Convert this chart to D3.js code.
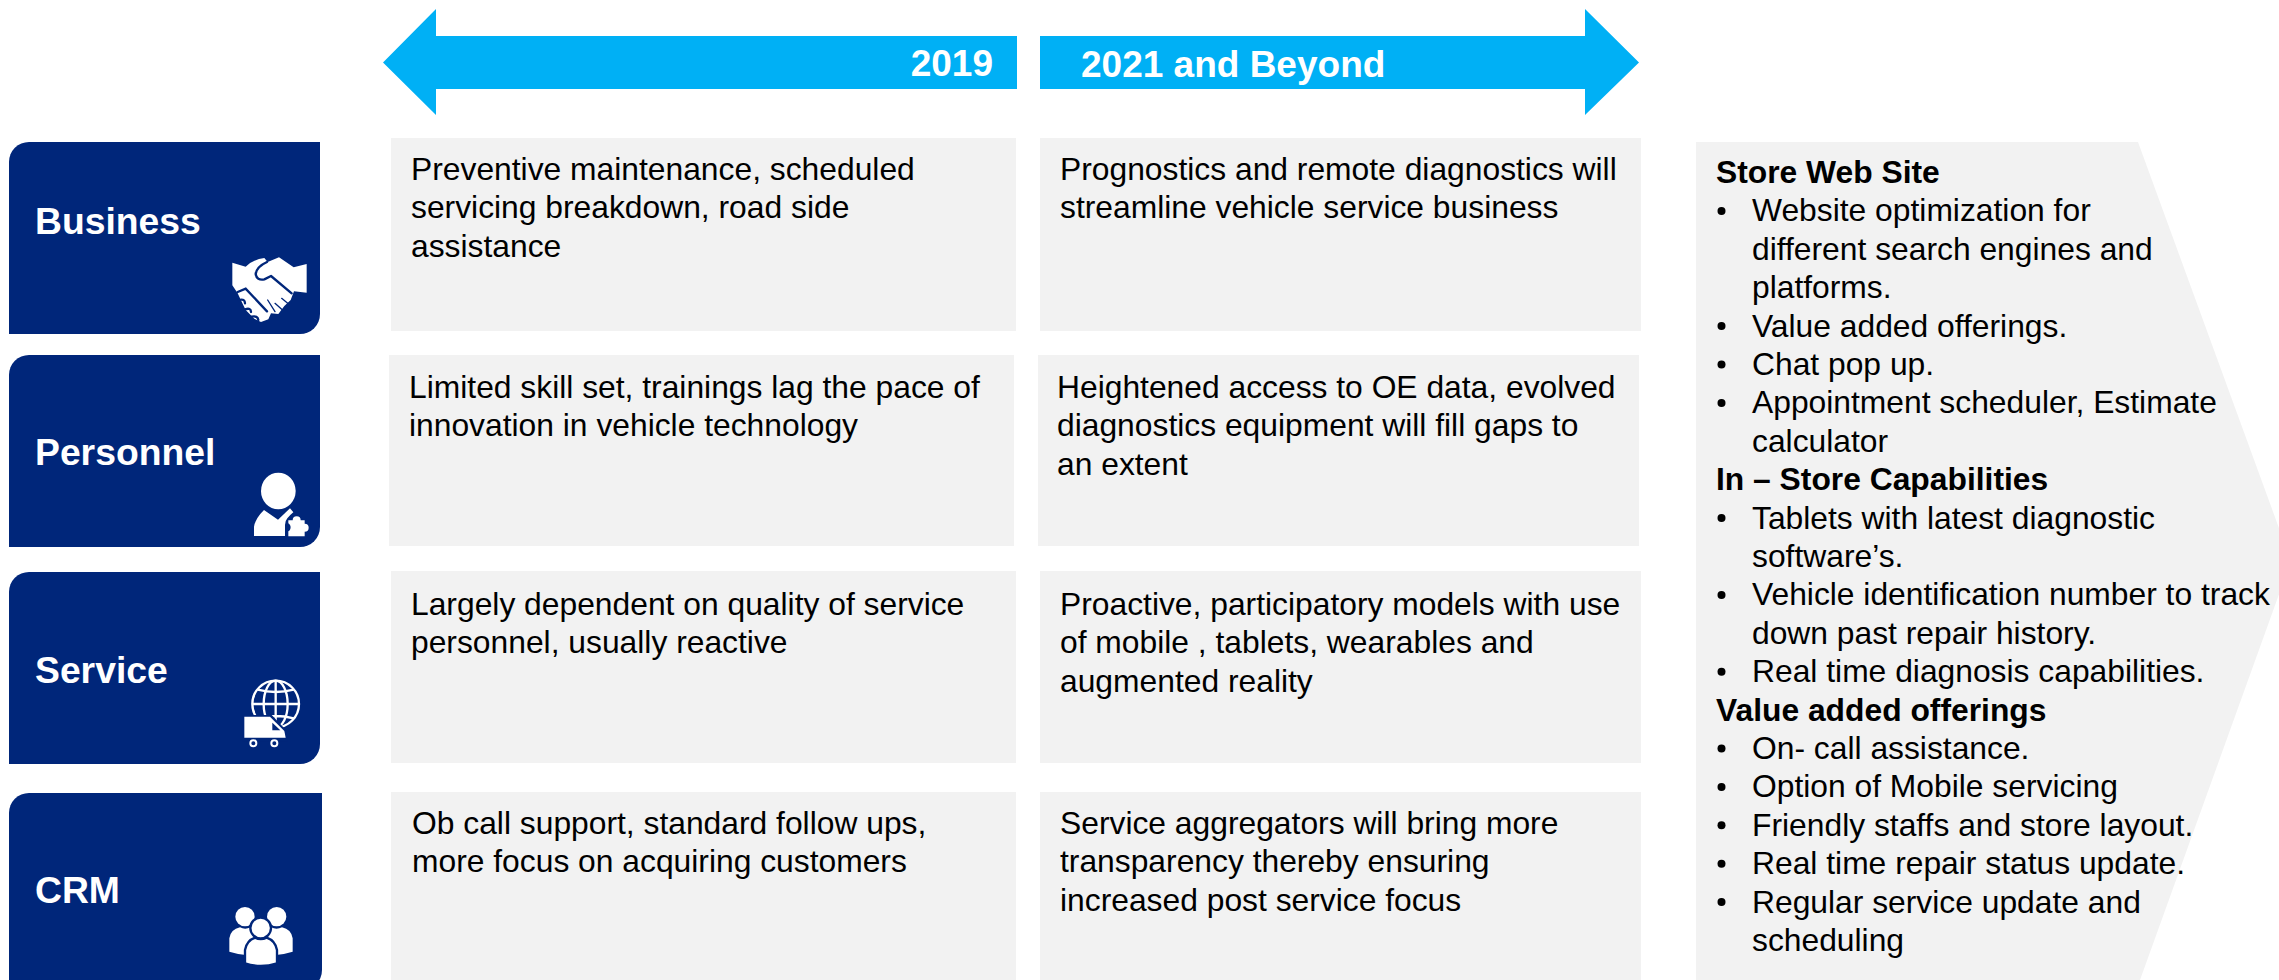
<!DOCTYPE html>
<html><head><meta charset="utf-8">
<script src="https://cdn.jsdelivr.net/npm/d3@7/dist/d3.min.js"></script>
<style>html,body{margin:0;padding:0;background:#fff;overflow:hidden}svg{display:block;font-family:"Liberation Sans",Arial,sans-serif}</style>
</head><body><svg id="c" width="2279" height="980"></svg>
<script>
const categories=["Business","Personnel","Service","CRM"];
const periods=["2019","2021 and Beyond"];
const text2019=[
 ["Preventive maintenance, scheduled","servicing breakdown, road side","assistance"],
 ["Limited skill set, trainings lag the pace of","innovation in vehicle technology"],
 ["Largely dependent on quality of service","personnel, usually reactive"],
 ["Ob call support, standard follow ups,","more focus on acquiring customers"]];
const text2021=[
 ["Prognostics and remote diagnostics will","streamline vehicle service business"],
 ["Heightened access to OE data, evolved","diagnostics equipment will fill gaps to","an extent"],
 ["Proactive, participatory models with use","of mobile , tablets, wearables and","augmented reality"],
 ["Service aggregators will bring more","transparency thereby ensuring","increased post service focus"]];
const sideLines=[
 ["h","Store Web Site"],["b","Website optimization for"],["c","different search engines and"],["c","platforms."],
 ["b","Value added offerings."],["b","Chat pop up."],["b","Appointment scheduler, Estimate"],["c","calculator"],
 ["h","In – Store Capabilities"],["b","Tablets with latest diagnostic"],["c","software’s."],
 ["b","Vehicle identification number to track"],["c","down past repair history."],["b","Real time diagnosis capabilities."],
 ["h","Value added offerings"],["b","On- call assistance."],["b","Option of Mobile servicing"],["b","Friendly staffs and store layout."],
 ["b","Real time repair status update."],["b","Regular service update and"],["c","scheduling"]];

const svg=d3.select("#c");
const NAVY="#00267a",CYAN="#00b0f5",GREY="#f2f2f2",INK="#000",FS=31.8;
const rowTop=d3.scaleOrdinal(categories,[142,355,572,793]);
const rowBottom=d3.scaleOrdinal(categories,[334,547,764,990]);
const cellTop=d3.scaleOrdinal(categories,[138,355,571,792]);
const cellBottom=d3.scaleOrdinal(categories,[331,546,763,990]);
const cellDX=d3.scaleOrdinal(categories,[0,-2,0,0]);
const textY=d3.scaleOrdinal(categories,[180,398,615,834]);
const colX=d3.scaleOrdinal(periods,[391,1040]);
const colW=d3.scaleOrdinal(periods,[625,601]);
const line=d3.line();

// arrow
const g=svg.append("g").attr("fill",CYAN);
g.append("path").attr("d",line([[383,62.5],[436,9],[436,36],[1017,36],[1017,89],[436,89],[436,115]])+"Z");
g.append("path").attr("d",line([[1040,36],[1585,36],[1585,9],[1639,62.5],[1585,115],[1585,89],[1040,89]])+"Z");
svg.append("text").attr("x",993).attr("y",76).attr("text-anchor","end").attr("fill","#fff").attr("font-weight","bold").attr("font-size",37).text(periods[0]);
svg.append("text").attr("x",1081).attr("y",77).attr("fill","#fff").attr("font-weight","bold").attr("font-size",37).text(periods[1]);

// left boxes
function box(x,y,w,h,r){return `M${x+r},${y}H${x+w}V${y+h-r}A${r},${r} 0 0 1 ${x+w-r},${y+h}H${x}V${y+r}A${r},${r} 0 0 1 ${x+r},${y}Z`;}
const rows=svg.selectAll("g.row").data(categories).join("g").attr("class","row");
rows.append("path").attr("fill",NAVY).attr("d",(d,i)=>box(9,rowTop(d),i==3?313:311,rowBottom(d)-rowTop(d),20));
const labelY=[234,465,683,903];
rows.append("text").attr("x",35).attr("y",(d,i)=>labelY[i]).attr("fill","#fff").attr("font-weight","bold").attr("font-size",37.3).text(d=>d);

// icons, drawn in a 3x local grid
function icon(x,y){return svg.append("g").attr("transform",`translate(${x},${y}) scale(${1/3})`);}
const W="#fff";
// handshake
{const i=icon(225,250);
 i.append("path").attr("fill",W).attr("d","M22,38L62,50Q85,28 118,24L128,36L162,22L206,52L245,42V128L207,124L197,150L178,168L160,192L138,190L130,208L108,216L88,206L62,180L50,155L38,130L22,106Z");
 i.append("path").attr("fill","none").attr("stroke",NAVY).attr("stroke-width",7).attr("stroke-linecap","round").attr("stroke-linejoin","round").attr("d","M126,36Q95,50 92,72Q95,92 118,88L138,78L200,130");
 i.append("path").attr("fill","none").attr("stroke",NAVY).attr("stroke-width",7).attr("stroke-linecap","round").attr("d","M38,126L62,116L126,184M42,150Q60,145 60,160M60,178Q78,172 78,186M80,200Q98,196 100,210");
 i.append("path").attr("fill","none").attr("stroke",NAVY).attr("stroke-width",4).attr("stroke-linecap","round").attr("d","M128,150L150,185M150,160L170,178M170,145L188,160");
}
// person with puzzle piece
{const i=icon(240,465);
 i.append("ellipse").attr("fill",W).attr("cx",115).attr("cy",78).attr("rx",52).attr("ry",55);
 i.append("path").attr("fill",W).attr("d","M42,213V185Q46,160 72,135L114,164L150,130L160,142Q150,150 142,160Q135,168 135,180V213Z");
 i.append("path").attr("fill",W).attr("d","M145,166H158A12,12 0 1 1 182,166H194V176A12,12 0 1 1 194,200V214H145V199A14,14 0 0 0 145,175Z");
}
// globe with van
{const i=icon(235,675);
 const gl=i.append("g").attr("fill","none").attr("stroke",W).attr("stroke-width",7);
 gl.append("circle").attr("cx",122).attr("cy",87).attr("r",70);
 gl.append("ellipse").attr("cx",122).attr("cy",87).attr("rx",36).attr("ry",70);
 gl.append("path").attr("d","M122,17V157M52,87H192M68,44Q122,58 176,44M68,130Q122,116 176,130");
 i.append("path").attr("fill",NAVY).attr("stroke",NAVY).attr("stroke-width",10).attr("d","M28,125H108L146,165L152,195H28Z");
 i.append("path").attr("fill",W).attr("d","M28,125H105L148,168L152,188H28Z");
 i.append("path").attr("fill",NAVY).attr("d","M112,143L136,166H112Z");
 i.selectAll("circle.w").data([55,118]).join("circle").attr("class","w").attr("cx",d=>d).attr("cy",205).attr("r",9).attr("fill",NAVY).attr("stroke",W).attr("stroke-width",6);
}
// team
{const i=icon(220,900);
 i.selectAll("circle.h").data([75,170]).join("circle").attr("class","h").attr("cx",d=>d).attr("cy",50).attr("r",29).attr("fill",W);
 i.append("path").attr("fill",W).attr("d","M28,155V115Q32,88 60,82Q75,90 92,82Q122,90 122,120V165L78,165Q50,162 28,155Z");
 i.append("path").attr("fill",W).attr("d","M218,155V115Q214,88 186,82Q170,90 153,82Q122,90 122,120V165L168,165Q196,162 218,155Z");
 i.append("circle").attr("cx",122).attr("cy",84).attr("r",31).attr("fill",W).attr("stroke",NAVY).attr("stroke-width",7);
 i.append("path").attr("fill",W).attr("stroke",NAVY).attr("stroke-width",7).attr("d","M75,190V150Q80,122 105,113Q122,122 140,113Q166,122 171,150V190Q122,206 75,190Z");
}

// cells
function cells(col,texts,tx){
 const gg=svg.append("g");
 gg.selectAll("rect").data(categories).join("rect").attr("fill",GREY)
  .attr("x",d=>colX(col)+cellDX(d)).attr("y",d=>cellTop(d)).attr("width",colW(col)).attr("height",d=>cellBottom(d)-cellTop(d));
 gg.selectAll("text").data(categories).join("text").attr("fill",INK).attr("font-size",FS)
  .each(function(d,i){
   d3.select(this).selectAll("tspan").data(texts[i]).join("tspan")
    .attr("x",colX(col)+tx[i]).attr("y",(t,j)=>textY(d)+j*38.3).text(t=>t);
  });
}
cells("2019",text2019,[20,18,20,21]);
cells("2021 and Beyond",text2021,[20,17,20,20]);

// side panel
svg.append("path").attr("fill",GREY).attr("d",line([[1696,142],[2138,142],[2291,561],[2140,980],[1696,980]])+"Z");
const sy=d3.scalePoint().domain(d3.range(sideLines.length)).range([183,951]);
const sg=svg.append("g").attr("fill",INK).attr("font-size",FS);
sg.selectAll("text.l").data(sideLines).join("text").attr("class","l")
 .attr("x",d=>d[0]=="h"?1716:1752).attr("y",(d,i)=>sy(i)).attr("font-weight",d=>d[0]=="h"?"bold":null).text(d=>d[1]);
sg.selectAll("circle.b").data(sideLines.map((d,i)=>[d,i]).filter(d=>d[0][0]=="b")).join("circle").attr("class","b")
 .attr("cx",1721.5).attr("cy",d=>sy(d[1])-10.5).attr("r",4);
</script></body></html>
